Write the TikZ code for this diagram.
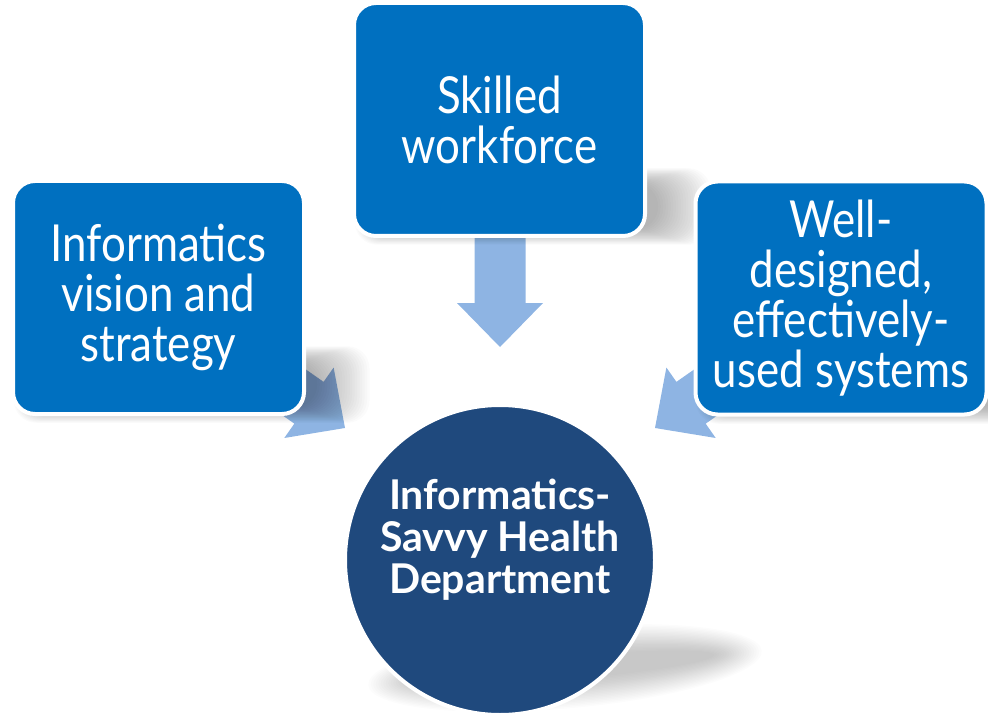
\documentclass[tikz,border=0pt]{standalone}
\usepackage{fontspec}
\setmainfont{Lato}
\newfontfamily\boxfont[FakeStretch=0.86]{Lato}
\newfontfamily\circfont{Lato}
\definecolor{boxblue}{HTML}{0070C0}
\definecolor{hdblue}{HTML}{1F497D}
\definecolor{arrowblue}{HTML}{8EB4E3}
\tikzset{
  pillar/.style={rectangle, rounded corners=22pt, fill=boxblue, draw=white, line width=4pt,
    minimum width=291pt, minimum height=233pt, text=white, align=center, inner sep=0pt,
    font=\boxfont\fontsize{51}{50}\selectfont},
  hub/.style={circle, fill=hdblue, draw=white, line width=4pt, minimum size=310pt, inner sep=0pt},
  hublabel/.style={text=white, align=center, inner sep=0pt,
    font=\circfont\bfseries\fontsize{41}{42}\selectfont},
  blockarrow/.style={fill=arrowblue},
  shadelayer/.style={fill=black, opacity=0.015, rounded corners=22pt},
  hubshade/.style={fill=black, opacity=0.0125},
}
\begin{document}
\begin{tikzpicture}[x=1pt,y=-1pt]
\useasboundingbox (0,0) rectangle (988,714);
\clip (0,0) rectangle (988,714);

% block arrows (tip position, direction)
\foreach \px/\py/\ang in {500/347/-90, 345/428/-35, 655/428/-145}{
  \begin{scope}[shift={(\px,\py)}, rotate=\ang]
    \fill[blockarrow] (0,0) -- (-44,43) -- (-44,25.5) -- (-115,25.5)
      -- (-115,-25.5) -- (-44,-25.5) -- (-44,-43) -- cycle;
  \end{scope}
}

% soft shadows of the three boxes (left, bottom, right edges)
\foreach \l/\b/\r in {15/412/302, 356/234/643, 697/413/985}{
  \foreach \i in {0,...,21}{
    \fill[shadelayer] ({\l+20-\i},{\b-50-0.75*\i}) rectangle ({\r+15+2.5*\i},{\b-5+0.75*\i});
  }
}

% boxes
\node[pillar] (vision) at (158.5,297.5) {Informatics\\vision and\\strategy};
\node[pillar] (workforce) at (499.5,119.5) {Skilled\\workforce};
\node[pillar] (systems) at (841,298) {Well-\\designed,\\effectively-\\used systems};

% shadow of the hub
\begin{scope}[shift={(565,668)}, rotate=5]
  \foreach \i in {0,...,19}{
    \fill[hubshade] (0,0) ellipse [x radius={150pt+2.5pt*\i}, y radius={12pt+1.5pt*\i}];
  }
\end{scope}

% hub
\node[hub] (hd) at (500,560) {};
\node[hublabel] (hdlabel) at ([yshift=20pt]hd.center) {Informatics-\\Savvy Health\\Department};
\end{tikzpicture}
\end{document}
